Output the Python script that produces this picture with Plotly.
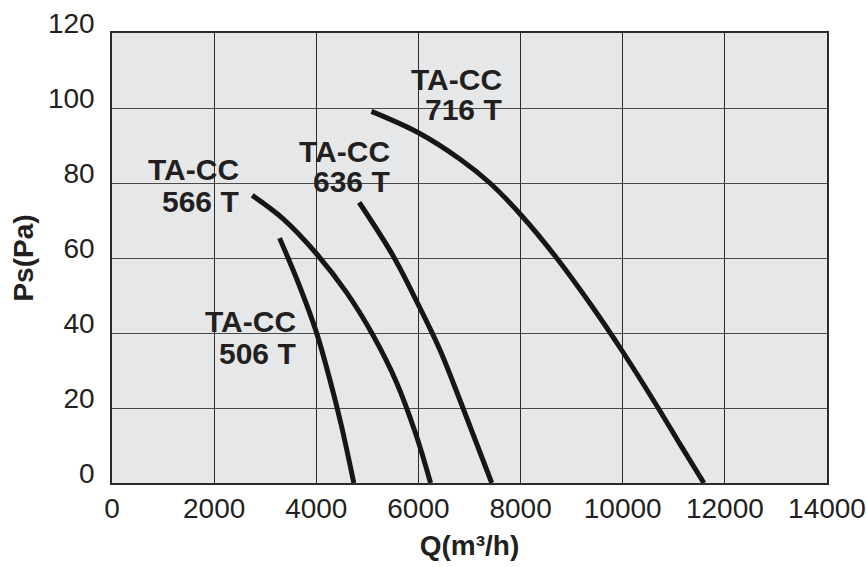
import plotly.graph_objects as go

# Fan curves: Q (m³/h) vs static pressure Ps (Pa)
q_506 = [3281, 3641, 4000, 4261, 4490, 4735]
ps_506 = [65.3, 53.6, 40.3, 27.8, 15.4, 0]

q_566 = [2745, 3346, 4000, 4588, 5111, 5569, 5950, 6238]
ps_566 = [76.7, 70.5, 61.2, 50.9, 39.4, 26.9, 13.0, 0]

q_636 = [4840, 5503, 6000, 6418, 6810, 7137, 7435]
ps_636 = [74.8, 60.6, 47.5, 35.6, 22.2, 10.6, 0]

q_716 = [5080, 6000, 6810, 7399, 8000, 8706, 9425, 10000, 10667, 11124, 11590]
ps_716 = [99.1, 93.4, 86.4, 80.0, 71.6, 60.0, 46.6, 35.0, 20.6, 10.3, 0]

series = [
    ("TA-CC 506 T", q_506, ps_506),
    ("TA-CC 566 T", q_566, ps_566),
    ("TA-CC 636 T", q_636, ps_636),
    ("TA-CC 716 T", q_716, ps_716),
]

# Labels: (line1, line2), right-edge x, y of line 1, y of line 2
label_text = [("TA-CC", "506 T"), ("TA-CC", "566 T"), ("TA-CC", "636 T"), ("TA-CC", "716 T")]
label_x = [3639, 2518, 5492, 7675]
label_y1 = [43.1, 83.5, 88.4, 107.7]
label_y2 = [34.6, 75.1, 80.4, 99.6]

x_ticks = [0, 2000, 4000, 6000, 8000, 10000, 12000, 14000]
y_ticks = [0, 20, 40, 60, 80, 100, 120]

fig = go.Figure()
for name, q, ps in series:
    fig.add_trace(go.Scatter(
        x=q, y=ps, mode="lines", name=name,
        line=dict(color="#161616", width=5, shape="spline", smoothing=1.0),
        showlegend=False,
    ))

annotations = []
for (l1, l2), lx, y1, y2 in zip(label_text, label_x, label_y1, label_y2):
    for txt, yy in ((l1, y1), (l2, y2)):
        annotations.append(dict(
            x=lx, y=yy, xref="x", yref="y", text=f"<b>{txt}</b>",
            showarrow=False, xanchor="right", yanchor="middle",
            font=dict(family="Liberation Sans, Arial, sans-serif", size=30, color="#231f20"),
        ))

fig.update_layout(
    width=866, height=567,
    margin=dict(l=112, r=39, t=33, b=84),
    paper_bgcolor="white",
    plot_bgcolor="#e6e7e9",
    font=dict(family="Liberation Sans, Arial, sans-serif", color="#231f20"),
    annotations=annotations,
)
fig.update_xaxes(
    range=[0, 14000], tickvals=x_ticks, ticktext=[str(v) for v in x_ticks],
    showgrid=True, gridcolor="#2b2b2b", gridwidth=1,
    showline=True, linecolor="#2b2b2b", linewidth=1.5, mirror=True,
    zeroline=False, ticks="", tickfont=dict(size=28), automargin=False,
    title=dict(text="<b>Q(m³/h)</b>", font=dict(size=28), standoff=12),
)
fig.update_yaxes(
    range=[0, 120], tickvals=y_ticks, ticktext=[str(v) for v in y_ticks],
    showgrid=True, gridcolor="#4a4a4a", gridwidth=1,
    showline=True, linecolor="#2b2b2b", linewidth=1.5, mirror=True,
    zeroline=False, ticks="", tickfont=dict(size=28), automargin=False,
    ticklabelshift=-10, ticklabelstandoff=10,
    title=dict(text="<b>Ps(Pa)</b>", font=dict(size=28), standoff=6),
)

fig.write_html(
    "out.html",
    config={"displayModeBar": False},
    post_script="document.body.style.margin='0';document.body.style.padding='0';",
)
